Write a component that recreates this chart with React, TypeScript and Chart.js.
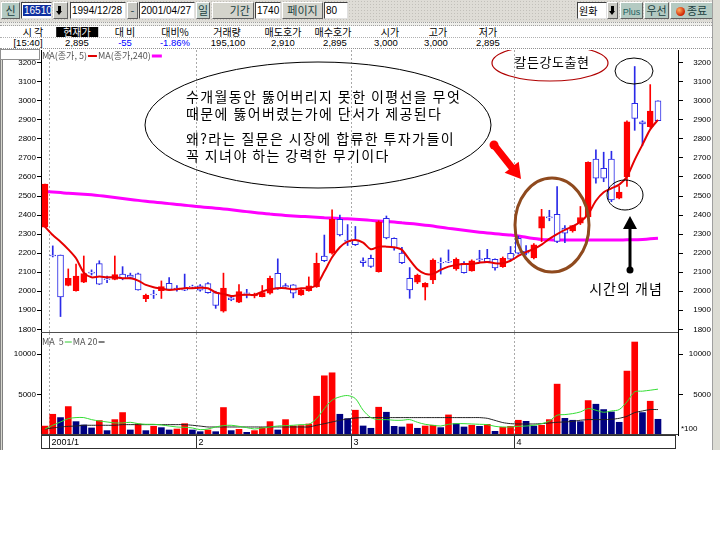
import React, { useEffect, useRef } from 'react';
import { Chart, registerables } from 'chart.js';
Chart.register(...registerables);

// ---------------- data ----------------
const opens = [2336,2190,2190,2030,2003,2048,2100,2145,2065,2062, 2090,2085,2091,1961,1985,2003,2042,2016,2010,2026, 2028,2040,1993,1895,1965,1942,1992,1975,1972,1990, 2094,2030,2033,1980,2003,2024,2185,2200,2378,2268, 2268,2160,2173,2103,2383,2278,2200,2068,2047,2021, 2059,2152,2157,2117,2147,2106,2170,2173,2168,2129, 2199,2278,2210,2175,2331,2390,2404,2331,2316,2357, 2390,2694,2645,2694,2488,2601,2987,2890,2864,3000];
const highs = [2563,2238,2190,2117,2142,2185,2112,2160,2080,2185, 2129,2095,2095,1985,2005,2054,2072,2030,2090,2032, 2035,2045,2000,2095,1975,2035,2010,1990,2030,2080, 2170,2040,2035,2010,2075,2200,2295,2427,2400,2350, 2340,2175,2190,2370,2395,2280,2230,2124,2090,2045, 2170,2175,2217,2175,2155,2165,2215,2220,2170,2180, 2235,2290,2240,2250,2430,2425,2550,2345,2345,2445, 2680,2742,2730,2735,2550,2895,3180,2895,3085,3000];
const lows = [2336,2180,1867,2028,2000,2045,2085,2035,2045,2060, 2060,2065,2005,1945,1962,1962,2005,2000,2003,2015, 2000,1990,1910,1890,1950,1940,1965,1965,1970,1985, 2010,2015,1965,1978,2000,2020,2155,2195,2290,2240, 2240,2130,2125,2100,2275,2215,2145,1963,2040,1954, 2040,2090,2150,2110,2095,2105,2150,2150,2110,2125, 2165,2195,2190,2170,2260,2370,2255,2255,2310,2350, 2385,2567,2575,2470,2485,2550,2845,2765,2860,2895];
const closes = [2563,2185,1970,2068,2080,2092,2095,2037,2060,2087, 2066,2072,2007,1979,1980,2024,2010,2008,2006,2022, 2005,1993,1925,2016,1955,1998,1988,1982,1993,2068, 2016,2022,1990,2007,2028,2147,2160,2378,2295,2262, 2245,2150,2130,2365,2280,2228,2150,2007,2085,2042, 2164,2148,2153,2168,2098,2160,2166,2155,2122,2173, 2168,2200,2200,2243,2392,2385,2262,2305,2345,2387, 2677,2593,2593,2480,2520,2890,2908,2878,2946,2895];
const ma5 = [2339,2295,2260,2220,2173,2098,2073,2077,2073,2073, 2068,2068,2056,2033,2021,2014,2007,2010,2016,2016, 2018,2016,1993,1986,1975,1980,1982,1980,1998,2010, 2016,2016,2010,2016,2016,2033,2103,2178,2231,2260, 2269,2255,2220,2234,2234,2231,2217,2164,2115,2091, 2091,2112,2129,2138,2143,2143,2150,2154,2147,2147, 2160,2185,2205,2222,2245,2275,2300,2322,2340,2365, 2405,2475,2520,2540,2560,2601,2690,2770,2850,2900];
const ma240 = [2523,2521,2518,2514,2512,2509,2506,2502,2497,2492, 2487,2482,2477,2472,2468,2464,2460,2456,2452,2447, 2443,2440,2436,2432,2428,2423,2418,2413,2409,2405, 2402,2398,2395,2393,2391,2389,2386,2384,2382,2380, 2378,2375,2372,2369,2366,2363,2359,2356,2352,2347, 2342,2336,2330,2325,2320,2315,2310,2306,2302,2298, 2295,2290,2283,2277,2272,2270,2269,2269,2269,2269, 2269,2269,2269,2269,2269,2270,2270,2272,2275,2278];
const volumes = [1100,2560,2150,3510,1650,1240,870,1780,540,1900, 2770,620,1360,540,1070,910,620,740,1400,620, 410,620,410,3390,540,700,330,540,910,1650, 620,1900,1110,1160,1360,4790,7310,7680,2560,2020, 3060,1115,830,3430,2810,1070,990,1360,830,1110, 1200,910,2480,1400,990,1200,1070,1320,450,950, 1070,1820,1690,1110,1200,1900,6280,2060,1820,1650, 4250,3800,3140,2850,1570,7890,11480,2770,4170,1940];
const volUp = 'rrbrbbbrbrrbrbrbbrrbbrbrbrbrrrbrrrrrrrbbrbbrbbbrbrrbrbbrbrbrrrbbrrrbbbrbbbbrrbrb';
const volMa5 = [740,1200,1610,2020,2150,2150,1900,1730,1610,1490, 1490,1570,1400,1320,1320,1240,1110,990,950,870, 660,740,990,1160,1200,1070,910,740,870,990, 1110,1160,1200,1280,1320,2020,3260,4300,4710,4870, 4500,3060,2150,1900,1900,1820,1820,1900,1570,1320, 1200,1110,1320,1400,1400,1360,1320,1280,1070,990, 990,1070,1110,1200,1400,1730,2440,2520,2640,2850, 3260,3060,2810,2970,3140,4090,5330,5410,5530,5660];
const volMa20 = [740,870,990,1070,1110,1200,1200,1200,1200,1200, 1280,1280,1280,1280,1280,1280,1280,1280,1280,1200, 1100,990,990,990,990,990,990,990,990,990, 990,990,990,990,990,1200,1400,1610,1820,1980, 2100,2150,2150,2150,2150,2150,2150,2150,2150,2150, 2150,2150,2150,2150,2150,2150,2150,2060,1800,1530, 1400,1360,1360,1360,1400,1480,1570,1610,1690,1820, 1900,1900,1900,1940,2060,2310,2770,2970,3140,3140];
const monthStartIdx = [1, 20, 40, 61];
const monthLabels = ['2001/1', '2', '3', '4'];
const priceTicks = [1800,1900,2000,2100,2200,2300,2400,2500,2600,2700,2800,2900,3000,3100,3200];
const volTicks = [5000, 10000];
const noteLines = ['수개월동안 뚫어버리지 못한 이평선을 무엇', '때문에 뚫어버렸는가에 단서가 제공된다', '왜?라는 질문은 시장에 합류한 투자가들이', '꼭 지녀야 하는 강력한 무기이다'];

// ---------------- style ----------------
const FONT_KR = '"Noto Sans CJK KR", "Noto Sans", sans-serif';
const FONT_UI = '"Liberation Sans", Arial, sans-serif';
const RED = '#ff0000';
const BLUE = '#2a2ae8';
const NAVY = '#000080';
const X_MIN = -0.515;
const X_MAX = 81.58;
const PRICE_TOP = 50;
const VOL_TOP = 333;
const CW = 711;

const idx = closes.map((_, i) => i);
const isUp = idx.map((i) => closes[i] >= opens[i]);

function dashedMonths(chart: any) {
  const { ctx, chartArea: a, scales } = chart;
  const x = scales.x;
  ctx.save();
  ctx.strokeStyle = '#a9a9a9';
  ctx.lineWidth = 1;
  ctx.setLineDash([2, 2]);
  monthStartIdx.forEach((m) => {
    const px = Math.round(x.getPixelForValue(m - 0.5)) + 0.5;
    ctx.beginPath();
    ctx.moveTo(px, a.top);
    ctx.lineTo(px, a.bottom);
    ctx.stroke();
  });
  ctx.restore();
}

function ellipse(ctx: any, cx: number, cy: number, rx: number, ry: number, color: string, lw: number) {
  ctx.beginPath();
  ctx.ellipse(cx, cy, rx, ry, 0, 0, Math.PI * 2);
  ctx.strokeStyle = color;
  ctx.lineWidth = lw;
  ctx.stroke();
}

const pricePlugin = {
  id: 'priceDeco',
  beforeDatasetsDraw(chart: any) {
    dashedMonths(chart);
  },
  afterDraw(chart: any) {
    const { ctx, chartArea: a } = chart;
    const Y = (y: number) => y - PRICE_TOP;
    ctx.save();
    ctx.strokeStyle = '#505050';
    ctx.lineWidth = 1;
    ctx.beginPath();
    ctx.moveTo(a.left, a.bottom - 0.5);
    ctx.lineTo(a.right, a.bottom - 0.5);
    ctx.stroke();

    // legend
    ctx.font = `9px ${FONT_KR}`;
    ctx.textBaseline = 'middle';
    ctx.textAlign = 'left';
    ctx.fillStyle = '#555';
    let lx = a.left + 1;
    const ly = 6;
    const t1 = 'MA(종가, 5)';
    ctx.fillText(t1, lx, ly);
    lx += ctx.measureText(t1).width + 1;
    ctx.strokeStyle = '#e00000'; ctx.lineWidth = 2;
    ctx.beginPath(); ctx.moveTo(lx, ly); ctx.lineTo(lx + 9, ly); ctx.stroke();
    lx += 10;
    const t2 = 'MA(종가,240)';
    ctx.fillText(t2, lx, ly);
    lx += ctx.measureText(t2).width + 1;
    ctx.strokeStyle = '#ff00ff'; ctx.lineWidth = 3;
    ctx.beginPath(); ctx.moveTo(lx, ly); ctx.lineTo(lx + 10, ly); ctx.stroke();

    // big note ellipse + text
    ellipse(ctx, 318, Y(125), 173, 63, '#000', 1);
    ctx.fillStyle = '#000';
    ctx.font = `14px ${FONT_KR}`;
    (ctx as any).letterSpacing = '1.4px';
    const ys = [97, 114, 139, 156];
    noteLines.forEach((t, k) => ctx.fillText(t, 186, Y(ys[k])));

    // red ellipse label
    ellipse(ctx, 550, Y(63), 58, 18, '#b00000', 1.2);
    ctx.font = `13px ${FONT_KR}`;
    (ctx as any).letterSpacing = '0.6px';
    ctx.textAlign = 'center';
    ctx.fillText('칼든강도출현', 552, Y(62));
    (ctx as any).letterSpacing = '0px';

    // small black circles
    ellipse(ctx, 634, Y(71), 19, 13, '#000', 1);
    ellipse(ctx, 625, Y(195), 18, 15, '#000', 1);

    // brown ellipse
    ellipse(ctx, 552, Y(225), 37, 47, '#8f4a1e', 3);

    // red arrow
    {
      const tx = 494, ty = Y(145), hx = 521, hy = Y(179);
      const dx = hx - tx, dy = hy - ty;
      const len = Math.hypot(dx, dy);
      const ux = dx / len, uy = dy / len;
      const nx = -uy, ny = ux;
      const sw = 3.5, hw = 9, hl = 15;
      const bx = hx - ux * hl, by = hy - uy * hl;
      ctx.fillStyle = '#ff0000';
      ctx.beginPath();
      ctx.moveTo(tx + nx * sw, ty + ny * sw);
      ctx.lineTo(bx + nx * sw, by + ny * sw);
      ctx.lineTo(bx + nx * hw, by + ny * hw);
      ctx.lineTo(hx, hy);
      ctx.lineTo(bx - nx * hw, by - ny * hw);
      ctx.lineTo(bx - nx * sw, by - ny * sw);
      ctx.lineTo(tx - nx * sw, ty - ny * sw);
      ctx.closePath();
      ctx.fill();
      ctx.beginPath();
      ctx.arc(tx, ty, 4.5, 0, Math.PI * 2);
      ctx.fill();
    }

    // black arrow
    ctx.strokeStyle = '#000';
    ctx.fillStyle = '#000';
    ctx.lineWidth = 3;
    ctx.beginPath();
    ctx.moveTo(630, Y(270));
    ctx.lineTo(630, Y(226));
    ctx.stroke();
    ctx.beginPath();
    ctx.moveTo(630, Y(216));
    ctx.lineTo(637, Y(229));
    ctx.lineTo(623, Y(229));
    ctx.closePath();
    ctx.fill();
    ctx.beginPath();
    ctx.arc(630, Y(270), 3.5, 0, Math.PI * 2);
    ctx.fill();

    ctx.font = `14px ${FONT_KR}`;
    (ctx as any).letterSpacing = '1px';
    ctx.textAlign = 'center';
    ctx.fillText('시간의 개념', 626, Y(289));
    (ctx as any).letterSpacing = '0px';
    ctx.restore();
  },
};

const volPlugin = {
  id: 'volDeco',
  beforeDatasetsDraw(chart: any) {
    dashedMonths(chart);
  },
  afterDraw(chart: any) {
    const { ctx, chartArea: a, scales } = chart;
    const x = scales.x;
    ctx.save();
    ctx.font = `9px ${FONT_KR}`;
    ctx.textBaseline = 'middle';
    ctx.textAlign = 'left';
    ctx.fillStyle = '#555';
    let lx = a.left + 1;
    const ly = 9;
    ctx.fillText('MA  5', lx, ly);
    lx += ctx.measureText('MA  5').width + 1;
    ctx.strokeStyle = '#33cc33'; ctx.lineWidth = 1;
    ctx.beginPath(); ctx.moveTo(lx, ly); ctx.lineTo(lx + 7, ly); ctx.stroke();
    lx += 8;
    ctx.fillText('MA 20', lx, ly);
    lx += ctx.measureText('MA 20').width + 1;
    ctx.strokeStyle = '#000'; ctx.lineWidth = 1;
    ctx.beginPath(); ctx.moveTo(lx, ly); ctx.lineTo(lx + 6, ly); ctx.stroke();

    ctx.font = `8px ${FONT_UI}`;
    ctx.fillStyle = '#000';
    ctx.fillText('*100', a.right + 3, a.bottom - 6);

    ctx.strokeStyle = '#404040';
    ctx.beginPath();
    ctx.moveTo(a.left, a.bottom - 0.5);
    ctx.lineTo(a.right, a.bottom - 0.5);
    ctx.stroke();

    const top = a.bottom;
    const h = 13;
    ctx.strokeStyle = '#303030';
    ctx.lineWidth = 1;
    ctx.strokeRect(a.left + 0.5, top + 0.5, a.right - 3 - a.left, h);
    ctx.font = `9px ${FONT_UI}`;
    ctx.fillStyle = '#000';
    monthStartIdx.forEach((m, k) => {
      const px = Math.round(x.getPixelForValue(m - 0.5)) + 0.5;
      ctx.beginPath();
      ctx.moveTo(px, top);
      ctx.lineTo(px, top + h);
      ctx.stroke();
      ctx.fillText(monthLabels[k], px + 2, top + h / 2 + 1);
    });
    ctx.restore();
  },
};

function yAxis(pos: string, width: number, min: number, max: number, ticks: number[], extra: any) {
  return {
    type: 'linear',
    position: pos,
    min,
    max,
    afterFit(s: any) {
      s.width = width;
      s.paddingTop = 0;
      s.paddingBottom = 0;
    },
    afterBuildTicks(s: any) {
      s.ticks = ticks.map((v) => ({ value: v }));
    },
    ticks: {
      autoSkip: false,
      color: '#000',
      font: { size: 8, family: FONT_UI },
      callback: (v: any) => String(v),
      ...extra,
    },
    grid: { drawOnChartArea: false, drawTicks: true, tickLength: pos === 'left' ? 4 : 5, color: '#000' },
    border: { display: true, color: '#000', width: 1 },
  };
}

function priceConfig(): any {
  return {
    type: 'bar',
    data: {
      datasets: [
        {
          type: 'line',
          data: idx.map((i) => ({ x: i, y: ma240[i] })),
          borderColor: '#ff00ff',
          borderWidth: 3,
          pointRadius: 0,
          tension: 0.2,
          order: 4,
        },
        {
          data: idx.map((i) => ({ x: i, y: [lows[i], highs[i]] })),
          backgroundColor: idx.map((i) => (isUp[i] ? RED : BLUE)),
          borderWidth: 0,
          barThickness: 1,
          grouped: false,
          order: 3,
        },
        {
          data: idx.map((i) => ({ x: i, y: [Math.min(opens[i], closes[i]), Math.max(opens[i], closes[i])] })),
          backgroundColor: idx.map((i) => (isUp[i] ? RED : '#ffffff')),
          borderColor: idx.map((i) => (isUp[i] ? RED : BLUE)),
          borderWidth: 1,
          borderSkipped: false,
          barThickness: 6,
          grouped: false,
          order: 2,
        },
        {
          type: 'line',
          data: idx.map((i) => ({ x: i, y: ma5[i] })),
          borderColor: '#e60000',
          borderWidth: 2,
          pointRadius: 0,
          tension: 0.25,
          order: 1,
        },
      ],
    },
    options: {
      animation: false,
      responsive: false,
      devicePixelRatio: 1,
      events: [],
      layout: { padding: 0, autoPadding: false },
      plugins: { legend: { display: false }, tooltip: { enabled: false } },
      scales: {
        x: { type: 'linear', min: X_MIN, max: X_MAX, offset: false, display: false },
        y: yAxis('left', 41, 1780.6, 3266.7, priceTicks, { padding: 1 }),
        y2: yAxis('right', CW - 678, 1780.6, 3266.7, priceTicks, { crossAlign: 'far' }),
      },
    },
    plugins: [pricePlugin],
  };
}

function volConfig(): any {
  return {
    type: 'bar',
    data: {
      datasets: [
        {
          data: idx.map((i) => ({ x: i, y: volumes[i] })),
          backgroundColor: idx.map((i) => (volUp[i] === 'r' ? RED : NAVY)),
          borderWidth: 0,
          barThickness: 6,
          grouped: false,
          order: 2,
        },
        {
          type: 'line',
          data: idx.map((i) => ({ x: i, y: volMa20[i] })),
          borderColor: '#222',
          borderWidth: 1,
          pointRadius: 0,
          tension: 0.2,
          order: 1,
        },
        {
          type: 'line',
          data: idx.map((i) => ({ x: i, y: volMa5[i] })),
          borderColor: '#33dd33',
          borderWidth: 1,
          pointRadius: 0,
          tension: 0.3,
          order: 0,
        },
      ],
    },
    options: {
      animation: false,
      responsive: false,
      devicePixelRatio: 1,
      events: [],
      layout: { padding: 0, autoPadding: false },
      plugins: { legend: { display: false }, tooltip: { enabled: false } },
      scales: {
        x: {
          type: 'linear',
          min: X_MIN,
          max: X_MAX,
          offset: false,
          grid: { display: false, offset: false },
          ticks: { display: false },
          border: { display: false },
          afterFit(s: any) {
            s.height = 14;
            s.paddingLeft = 0;
            s.paddingRight = 0;
          },
        },
        y: yAxis('left', 41, 0, 12593, volTicks, { padding: 1 }),
        y2: yAxis('right', CW - 678, 0, 12593, volTicks, { crossAlign: 'far' }),
      },
    },
    plugins: [volPlugin],
  };
}

// ---------------- UI helpers ----------------
const abs = (l: number, t: number, w: number, h: number, extra: any = {}) => ({
  position: 'absolute' as const,
  left: l,
  top: t,
  width: w,
  height: h,
  boxSizing: 'border-box' as const,
  ...extra,
});

const fieldStyle = (l: number, w: number) =>
  abs(l, 2, w, 17, {
    background: '#fff',
    borderTop: '1px solid #404040',
    borderLeft: '1px solid #404040',
    borderBottom: '1px solid #e0e0e0',
    borderRight: '1px solid #e0e0e0',
    font: `10px ${FONT_UI}`,
    lineHeight: '15px',
    paddingLeft: 1,
    color: '#000',
    whiteSpace: 'nowrap',
    overflow: 'hidden',
  });

const btnStyle = (l: number, w: number, bg = '#c4d2cc') =>
  abs(l, 2, w, 17, {
    background: bg,
    borderTop: '1px solid #ffffff',
    borderLeft: '1px solid #ffffff',
    borderBottom: '1px solid #606060',
    borderRight: '1px solid #606060',
    font: `11px ${FONT_KR}`,
    lineHeight: '15px',
    textAlign: 'center',
    color: '#204040',
    whiteSpace: 'nowrap',
  });

const headers = [
  { label: '시 각', value: '[15:40]', x: 33, vx: 28 },
  { label: '현재가', value: '2,895', x: 77, vx: 77 },
  { label: '대 비', value: '-55', x: 125, vx: 125 },
  { label: '대비%', value: '-1.86%', x: 175, vx: 175 },
  { label: '거래량', value: '195,100', x: 227, vx: 228 },
  { label: '매도호가', value: '2,910', x: 283, vx: 283 },
  { label: '매수호가', value: '2,895', x: 333, vx: 335 },
  { label: '시가', value: '3,000', x: 390, vx: 386 },
  { label: '고가', value: '3,000', x: 438, vx: 436 },
  { label: '저가', value: '2,895', x: 488, vx: 488 },
];

export default function App() {
  const priceRef = useRef<HTMLCanvasElement>(null);
  const volRef = useRef<HTMLCanvasElement>(null);

  useEffect(() => {
    const c1 = new Chart(priceRef.current as HTMLCanvasElement, priceConfig());
    const c2 = new Chart(volRef.current as HTMLCanvasElement, volConfig());
    return () => {
      c1.destroy();
      c2.destroy();
    };
  }, []);

  return (
    <div style={{ position: 'fixed', left: 0, top: 0, width: 720, height: 540, background: '#fff', overflow: 'hidden' }}>
      <div
        style={abs(0, 0, 720, 22, {
          backgroundColor: '#dedcd6',
          backgroundImage: 'radial-gradient(circle, #c2c0ba 0.7px, transparent 0.8px)',
          backgroundSize: '3px 3px',
        })}
      />
      <div style={btnStyle(1, 19, '#b4cac2')}>신</div>
      <div style={fieldStyle(21, 31)}>
        <span style={{ background: '#1030a0', color: '#fff', padding: '0 1px' }}>16510</span>
      </div>
      <div style={btnStyle(53, 15, '#c8c8c2')}>
        <div style={{ position: 'absolute', left: 4, top: 3, width: 3, height: 5, background: '#000' }} />
        <div
          style={{
            position: 'absolute',
            left: 2,
            top: 8,
            width: 0,
            height: 0,
            borderLeft: '3.5px solid transparent',
            borderRight: '3.5px solid transparent',
            borderTop: '4px solid #000',
          }}
        />
      </div>
      <div style={fieldStyle(70, 56)}>1994/12/28</div>
      <div style={btnStyle(127, 11, '#c8c8c2')}>-</div>
      <div style={fieldStyle(139, 56)}>2001/04/27</div>
      <div style={btnStyle(196, 14, '#c4d2cc')}>일</div>
      <div style={btnStyle(212, 42, '#d4d4cc')}>
        <span style={{ position: 'absolute', right: 3, top: 0 }}>기간</span>
      </div>
      <div style={fieldStyle(255, 26)}>1740</div>
      <div style={btnStyle(282, 41, '#d4d4cc')}>페이지</div>
      <div style={fieldStyle(324, 24)}>80</div>

      <div style={fieldStyle(577, 30)}>
        <span style={{ font: `10px ${FONT_KR}` }}>원화</span>
      </div>
      <div style={btnStyle(607, 11, '#c8c8c2')}>
        <div style={{ position: 'absolute', left: 3, top: 3, width: 3, height: 5, background: '#000' }} />
        <div
          style={{
            position: 'absolute',
            left: 1,
            top: 8,
            width: 0,
            height: 0,
            borderLeft: '3.5px solid transparent',
            borderRight: '3.5px solid transparent',
            borderTop: '4px solid #000',
          }}
        />
      </div>
      <div style={btnStyle(620, 23, '#b4cac2')}>
        <span style={{ font: `9px ${FONT_UI}`, color: '#206060' }}>Plus</span>
      </div>
      <div style={btnStyle(644, 25, '#b4cac2')}>우선</div>
      <div style={btnStyle(670, 43, '#b4cac2')}>
        <span
          style={{
            display: 'inline-block',
            width: 9,
            height: 9,
            borderRadius: 5,
            background: 'radial-gradient(circle at 35% 35%, #ffb060, #d02000 70%)',
            verticalAlign: -1,
            marginRight: 2,
          }}
        />
        종료
      </div>

      <div style={abs(0, 22, 720, 4, { borderTop: '1px dotted #a0a0a0', borderBottom: '1px dotted #a0a0a0', background: '#eeeeea' })} />
      {headers.map((h, k) => (
        <div
          key={'h' + k}
          style={{
            position: 'absolute',
            left: h.x,
            top: 27,
            transform: 'translateX(-50%)',
            font: `10px ${FONT_KR}`,
            lineHeight: '10px',
            color: k === 1 ? '#fff' : '#000',
            background: k === 1 ? '#000' : 'transparent',
            padding: k === 1 ? '0 7px' : 0,
            whiteSpace: 'nowrap',
          }}
        >
          {h.label}
        </div>
      ))}
      <div style={abs(0, 37, 720, 1, { borderTop: '1px dotted #b0b0b0' })} />
      {headers.map((h, k) => (
        <div
          key={'v' + k}
          style={{
            position: 'absolute',
            left: h.vx,
            top: 38,
            transform: 'translateX(-50%)',
            font: `9.5px ${FONT_UI}`,
            lineHeight: '10px',
            color: k === 2 || k === 3 ? '#0000ff' : '#000',
            whiteSpace: 'nowrap',
          }}
        >
          {h.value}
        </div>
      ))}
      <div style={abs(0, 48, 720, 2, { borderTop: '1px dotted #909090' })} />
      <div style={abs(0, 49, 40, 11, { border: '1px solid #909090', background: '#fff' })} />

      <div style={abs(0, 60, 3, 390, { borderLeft: '1px solid #808080', borderRight: '1px solid #808080', background: '#d8d8d0' })} />
      <div style={abs(712, 0, 8, 450, { background: '#dcdcd4', borderLeft: '1px solid #a0a0a0' })} />

      <canvas ref={priceRef} width={CW} height={283} style={{ position: 'absolute', left: 0, top: PRICE_TOP }} />
      <canvas ref={volRef} width={CW} height={116} style={{ position: 'absolute', left: 0, top: VOL_TOP }} />
    </div>
  );
}
